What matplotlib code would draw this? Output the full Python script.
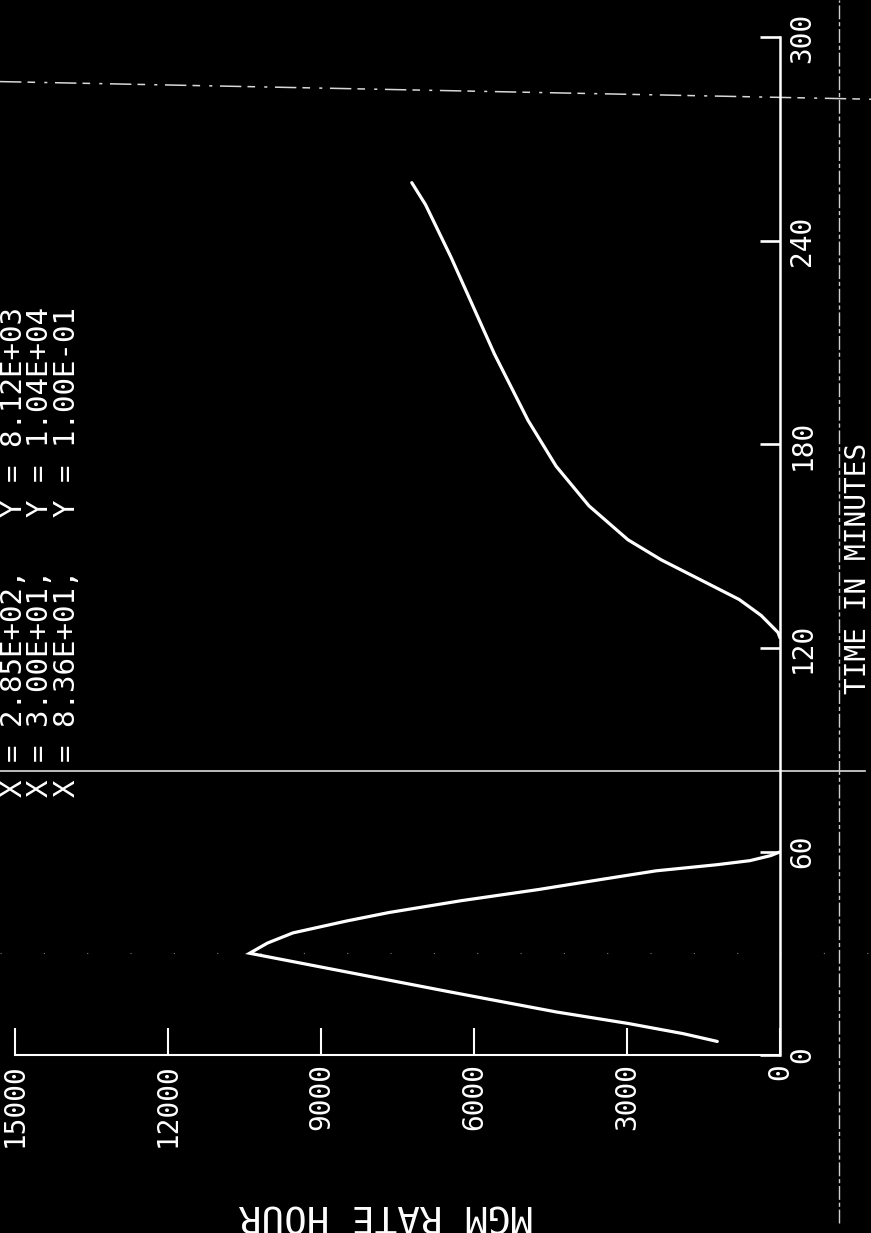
import matplotlib
matplotlib.use("Agg")
import matplotlib.pyplot as plt
from matplotlib.transforms import blended_transform_factory

# Axis ticks
time_ticks = [0, 60, 120, 180, 240, 300]
rate_ticks = [0, 3000, 6000, 9000, 12000, 15000]

# First peak (time in minutes, rate)
peak1_time = [4.0, 6.3, 9.3, 12.7, 18.6, 30.0, 33.0, 36.0, 39.5, 42.0, 45.5, 48.8, 51.7, 54.3, 56.1, 57.3, 58.8, 59.9]
peak1_rate = [1230, 1900, 2980, 4390, 6470, 10400, 10050, 9550, 8500, 7670, 6250, 4730, 3530, 2430, 1240, 590, 180, 0]

# Second rise
peak2_time = [123.0, 124.6, 129.6, 134.3, 140.2, 146.0, 151.9, 161.9, 173.6, 187.1, 206.7, 235.2, 250.7, 257.2]
peak2_rate = [0, 40, 370, 800, 1570, 2330, 2980, 3745, 4390, 4940, 5600, 6450, 6950, 7220]

# Cursor readouts
cursor_x = [2.85e2, 3.00e1, 8.36e1]
cursor_y = [8.12e3, 1.04e4, 1.00e-1]

x_label = "TIME IN MINUTES"
y_label = "MGM RATE HOUR"

MONO = "DejaVu Sans Mono"
W, H = 871, 1233


def fx(px):
    return px / W


def fy(py):
    return 1 - py / H


fig = plt.figure(figsize=(W / 100, H / 100), dpi=100, facecolor="black")

# plot frame in pixels: rate axis runs right->left, time axis bottom->top
left_px, right_px = 15, 780
bottom_px, top_px = 1055, 37.5
ax = fig.add_axes([fx(left_px), fy(bottom_px),
                   (right_px - left_px) / W, (bottom_px - top_px) / H])
ax.set_facecolor("black")

ax.plot(peak1_rate, peak1_time, color="white", lw=2.3,
        solid_joinstyle="miter", solid_capstyle="round", zorder=3)
ax.plot(peak2_rate, peak2_time, color="white", lw=2.3,
        solid_joinstyle="round", solid_capstyle="round", zorder=3)

ax.set_xlim(15000, 0)
ax.set_ylim(0, 300)

for side in ("left", "top"):
    ax.spines[side].set_visible(False)
ax.spines["right"].set_color("white")
ax.spines["right"].set_linewidth(1.8)
ax.spines["bottom"].set_color("white")
ax.spines["bottom"].set_linewidth(1.5)

ax.yaxis.tick_right()
ax.set_yticks(time_ticks)
ax.set_yticklabels([str(t) for t in time_ticks], rotation=90, va="center",
                   fontfamily=MONO, fontsize=20, color="white")
ax.tick_params(axis="y", direction="in", length=14.5, width=1.9,
               colors="white", pad=6)

ax.set_xticks(rate_ticks)
ax.set_xticklabels([str(r) for r in rate_ticks], rotation=90, ha="center",
                   va="top", fontfamily=MONO, fontsize=20, color="white")
ax.tick_params(axis="x", direction="in", length=19.5, width=1.5,
               colors="white", pad=6)

# cursor lines across the sheet at the readout times
trans = blended_transform_factory(fig.transFigure, ax.transData)
ax.plot([0, 1], [cursor_x[0] + 2.0, cursor_x[0] - 3.2], transform=trans,
        color="#d8d8d8", lw=1.1, ls=(0, (14, 4, 5, 6, 2, 5)),
        clip_on=False, zorder=1)
ax.plot([0, fx(865)], [cursor_x[2], cursor_x[2]], transform=trans,
        color="#dddddd", lw=1.2, clip_on=False, zorder=1)
ax.plot([0, 1], [cursor_x[1], cursor_x[1]], transform=trans,
        color="#7a7a7a", lw=0.8, ls=(0, (1, 38)), clip_on=False, zorder=1)

# sheet edge line
fig.add_artist(plt.Line2D([fx(839), fx(839)], [fy(1223), 1],
                          transform=fig.transFigure, color="#cfcfcf",
                          lw=1.0, ls=(0, (10, 2, 3, 2))))

# readout block
for xc, cx, cy in zip([14, 40, 67], cursor_x, cursor_y):
    fig.text(fx(xc), fy(797), f"X = {cx:.2E},   Y = {cy:.2E}",
             rotation=90, ha="center", va="bottom", fontsize=21,
             family=MONO, color="white")

fig.text(fx(858), fy(568), x_label, rotation=90, ha="center", va="center",
         fontsize=20, family=MONO, color="white")
fig.text(fx(386), fy(1196), y_label, rotation=180, ha="center", va="top",
         fontsize=27, family=MONO, color="white")

fig.savefig("out.png", dpi=100, facecolor="black")
